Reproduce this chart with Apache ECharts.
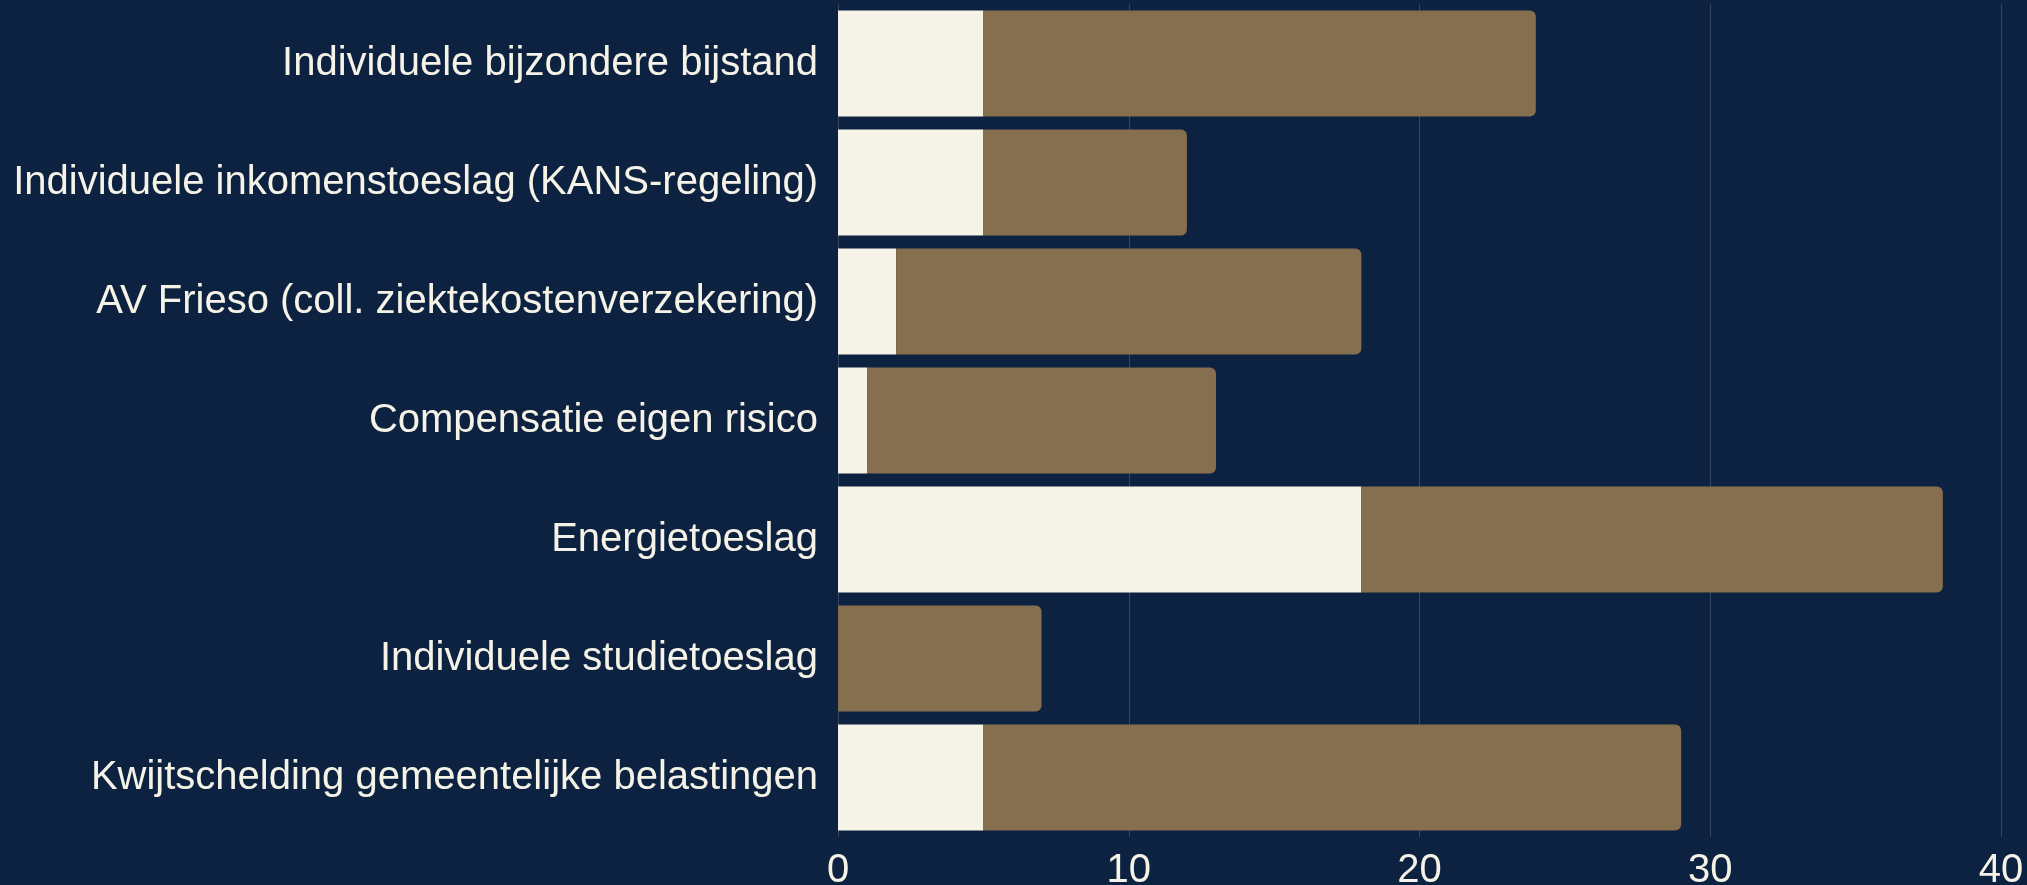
<!DOCTYPE html>
<html>
<head>
<meta charset="utf-8">
<script src="https://cdn.jsdelivr.net/npm/echarts@6/dist/echarts.min.js"></script>
<style>
  html, body { margin: 0; padding: 0; background: #0d2240; }
  #chart { width: 2027px; height: 885px; }
</style>
</head>
<body>
<div id="chart"></div>
<script>
var categories = [
    'Individuele bijzondere bijstand',
    'Individuele inkomenstoeslag (KANS-regeling)',
    'AV Frieso (coll. ziektekostenverzekering)',
    'Compensatie eigen risico',
    'Energietoeslag',
    'Individuele studietoeslag',
    'Kwijtschelding gemeentelijke belastingen'
];
var lightValues = [5, 5, 2, 1, 18, 0, 5];
var brownValues = [19, 7, 16, 12, 20, 7, 24];
var xTicks = [0, 10, 20, 30, 40];

var cream = '#f5f3e7';
var chart = echarts.init(document.getElementById('chart'));
var option = {
    backgroundColor: '#0d2240',
    animation: false,
    grid: {
        left: 838,
        right: 26,
        top: 4,
        bottom: 48,
        outerBoundsMode: 'none'
    },
    xAxis: {
        type: 'value',
        min: xTicks[0],
        max: xTicks[xTicks.length - 1],
        interval: 10,
        axisLine: { show: false },
        axisTick: { show: false },
        axisLabel: {
            color: cream,
            fontFamily: 'Liberation Sans',
            fontSize: 40,
            margin: 14
        },
        splitLine: {
            lineStyle: { color: '#34475f', width: 1 }
        }
    },
    yAxis: {
        type: 'category',
        inverse: true,
        data: categories,
        axisLine: { show: false },
        axisTick: { show: false },
        axisLabel: {
            color: cream,
            fontFamily: 'Liberation Sans',
            fontSize: 40,
            margin: 20
        }
    },
    series: [
        {
            name: 'a',
            type: 'bar',
            stack: 'total',
            data: lightValues,
            barCategoryGap: '11%',
            itemStyle: { color: cream }
        },
        {
            name: 'b',
            type: 'bar',
            stack: 'total',
            data: brownValues,
            barCategoryGap: '11%',
            itemStyle: { color: '#866f4e', borderRadius: [0, 6, 6, 0] }
        }
    ]
};
chart.setOption(option);
</script>
</body>
</html>
